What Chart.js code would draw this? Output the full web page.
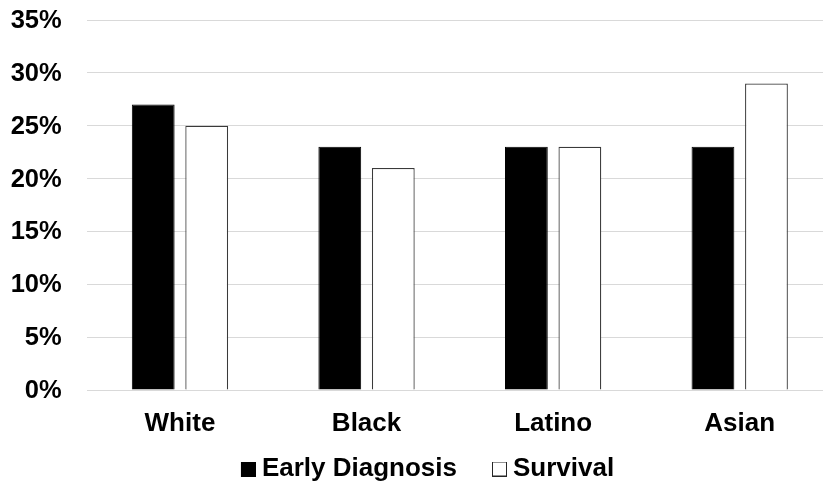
<!DOCTYPE html>
<html>
<head>
<meta charset="utf-8">
<script src="https://cdn.jsdelivr.net/npm/chart.js@4/dist/chart.umd.min.js"></script>
<style>
  html, body { margin: 0; padding: 0; background: #ffffff; overflow: hidden; }
  #wrap { width: 858px; height: 484px; }
</style>
</head>
<body>
<div id="wrap"><canvas id="chart" width="858" height="484"></canvas></div>
<script>
// Share of cases by group (percent)
const categories = ['White', 'Black', 'Latino', 'Asian'];
const earlyDiagnosis = [27, 23, 23, 23];
const survival = [25, 21, 23, 29];
const seriesNames = ['Early Diagnosis', 'Survival'];
const yTickValues = [0, 5, 10, 15, 20, 25, 30, 35];
const yTickLabels = ['0%', '5%', '10%', '15%', '20%', '25%', '30%', '35%'];

const FONT = '"Liberation Sans", Arial, Helvetica, sans-serif';
const MARKER_SLOT = 30;   // legend box slot width
const SQ = 15;            // legend square size

// Legend marker: a square sitting at the right end of the box slot, close to its text
function swatch(fill, stroke) {
  const w = MARKER_SLOT + 14;
  const c = document.createElement('canvas');
  c.width = w; c.height = SQ;
  const g = c.getContext('2d');
  const x0 = w - SQ;
  g.fillStyle = fill;
  g.fillRect(x0, 0, SQ, SQ);
  if (stroke) {
    g.strokeStyle = stroke;
    g.lineWidth = 1;
    g.strokeRect(x0 + 0.5, 0.5, SQ - 1, SQ - 1);
  }
  return c;
}
const markers = [swatch('#000000'), swatch('#ffffff', '#262626')];

new Chart(document.getElementById('chart'), {
  type: 'bar',
  data: {
    labels: categories,
    datasets: [
      {
        label: seriesNames[0],
        data: earlyDiagnosis,
        backgroundColor: '#000000',
        borderColor: '#000000',
        borderWidth: 1,
        categoryPercentage: 0.5735,
        barPercentage: 0.8
      },
      {
        label: seriesNames[1],
        data: survival,
        backgroundColor: '#ffffff',
        borderColor: '#3a3a3a',
        borderWidth: 1.25,
        categoryPercentage: 0.5735,
        barPercentage: 0.8
      }
    ]
  },
  options: {
    responsive: false,
    animation: false,
    layout: { padding: { left: 0, right: 25, top: 20, bottom: 0 } },
    scales: {
      x: {
        grid: { display: false, drawTicks: false },
        border: { display: false },
        ticks: {
          color: '#000000',
          padding: 18,
          font: { family: FONT, size: 26, weight: 'bold' }
        },
        afterFit: (scale) => { scale.height = 53; }
      },
      y: {
        min: 0,
        max: 35,
        grid: {
          color: '#d9d9d9',
          lineWidth: 1,
          drawTicks: true,
          tickLength: 20.6,
          tickColor: 'rgba(0,0,0,0)'
        },
        border: { display: false },
        ticks: {
          stepSize: 5,
          color: '#000000',
          padding: 4.4,
          labelOffset: 1,
          font: { family: FONT, size: 25.5, weight: 'bold' },
          callback: (v) => {
            const i = yTickValues.indexOf(v);
            return i >= 0 ? yTickLabels[i] : v + '%';
          }
        },
        afterFit: (scale) => { scale.width = 86.67; }
      }
    },
    plugins: {
      tooltip: { enabled: false },
      legend: {
        position: 'bottom',
        maxHeight: 41,
        labels: {
          color: '#000000',
          font: { family: FONT, size: 26, weight: 'bold' },
          padding: 13,
          usePointStyle: true,
          pointStyleWidth: MARKER_SLOT,
          generateLabels: (chart) => {
            const items = Chart.defaults.plugins.legend.labels.generateLabels(chart);
            items.forEach((it) => {
              it.pointStyle = markers[it.datasetIndex];
              it.lineWidth = 0;
            });
            return items;
          }
        }
      }
    }
  }
});
</script>
</body>
</html>
